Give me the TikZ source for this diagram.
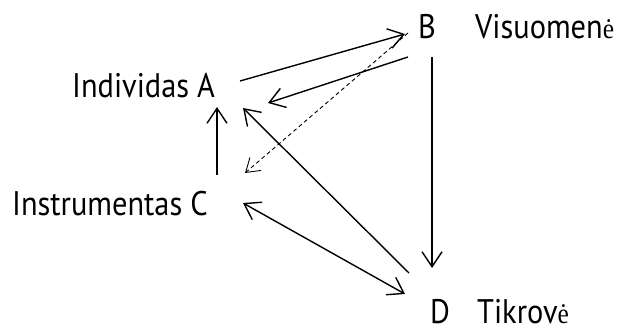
\documentclass[tikz,border=0pt]{standalone}
\usepackage{fontspec}
\usepackage{graphicx}
\setmainfont{PT Sans}
\newfontfamily\accentfont{Liberation Serif}
\usetikzlibrary{arrows.meta}
\newcommand{\edot}{{\accentfont\fontsize{26}{30}\selectfont ė}}
\newcommand{\tall}[1]{\scalebox{0.98}[1.1]{#1}}
\begin{document}
\begin{tikzpicture}[x=1pt,y=-1pt,
  lbl/.style={inner sep=0pt,anchor=base west,text depth=0pt,font=\fontsize{31}{36}\selectfont},
  link/.style={line width=1.4pt,-{Straight Barb[length=15pt,width=20pt,line width=1.4pt]}},
  hint/.style={line width=0.9pt,dash pattern=on 4pt off 3pt,-{Straight Barb[length=13pt,width=17pt,line width=0.9pt]}}]
\useasboundingbox (0,0) rectangle (626,333);
% labels
\node[lbl] (A) at (72,97) {\tall{Individas A}};
\node[lbl] (C) at (12,215) {\tall{Instrumentas C}};
\node[lbl] (B) at (418,38) {\tall{B}};
\node[lbl] (Bt) at (475,38) {\tall{Visuomen\edot}};
\node[lbl] (D) at (430,323) {\tall{D}};
\node[lbl] (Dt) at (477,323) {\tall{Tikrov\edot}};
% connector ends
\coordinate (a1) at (240,81);
\coordinate (b1) at (405,34);
\coordinate (b2) at (408,57);
\coordinate (a2) at (268,103);
\coordinate (b3) at (408,33);
\coordinate (c3) at (245,173);
\coordinate (c4) at (217,175);
\coordinate (a4) at (217,107);
\coordinate (d5) at (409,273);
\coordinate (a5) at (243,108);
\coordinate (c6) at (243,203);
\coordinate (d6) at (405,294);
\coordinate (b7) at (432,57);
\coordinate (d7) at (432,268);
% connectors
\draw[link] (a1) -- (b1);
\draw[link] (b2) -- (a2);
\draw[hint] (b3) -- (c3);
\draw[link] (c4) -- (a4);
\draw[link] (d5) -- (a5);
\draw[link,{Straight Barb[length=15pt,width=20pt,line width=1.4pt]}-{Straight Barb[length=15pt,width=20pt,line width=1.4pt]}] (c6) -- (d6);
\draw[link] (b7) -- (d7);
\end{tikzpicture}
\end{document}
